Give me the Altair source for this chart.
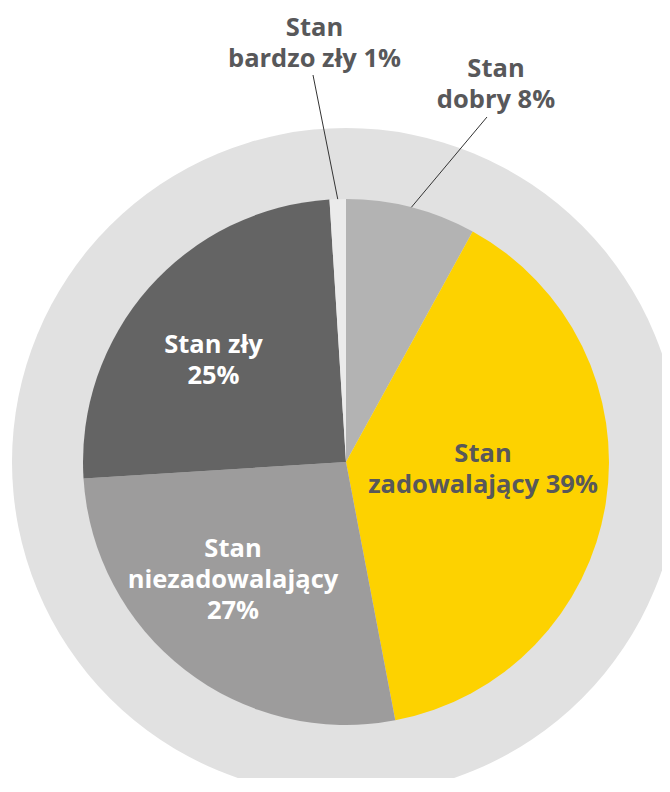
import math
import altair as alt
import pandas as pd

# ---- data ----
categories = ["Stan dobry", "Stan zadowalający", "Stan niezadowalający", "Stan zły", "Stan bardzo zły"]
values = [8, 39, 27, 25, 1]
label_texts = ["Stan\ndobry 8%", "Stan\nzadowalający 39%", "Stan\nniezadowalający\n27%", "Stan zły\n25%", "Stan\nbardzo zły 1%"]

# ---- style ----
slice_colors = ["#b3b3b3", "#fdd200", "#9d9c9c", "#646464", "#ebebeb"]
label_colors = ["#58585a", "#58585a", "#ffffff", "#ffffff", "#58585a"]
RING_COLOR = "#e1e1e1"

# ---- layout (svg pixels; page = svg + 8) ----
CX, CY = 338, 454
R_PIE = 263
R_RING = 334
# (horizontal centre, first-line baseline)
label_anchors = [(488, 69), (475, 454), (225, 549), (205.5, 344.5), (306.5, 28)]
leader_ends = [(479, 109), None, None, None, (305, 67)]

df = pd.DataFrame({"cat": categories, "value": values, "order": list(range(len(values)))})
ring_df = pd.DataFrame({"value": [sum(values)]})

ring = alt.Chart(ring_df).mark_arc(radius=R_RING, color=RING_COLOR).encode(
    theta=alt.Theta("value:Q"),
    x=alt.value(CX),
    y=alt.value(CY),
)

pie = alt.Chart(df).mark_arc(radius=R_PIE).encode(
    theta=alt.Theta("value:Q", stack=True),
    order=alt.Order("order:Q"),
    color=alt.Color("cat:N", scale=alt.Scale(domain=categories, range=slice_colors), legend=None),
    x=alt.value(CX),
    y=alt.value(CY),
)

# leader lines start at the middle of each slice's outer edge
total = sum(values)
rows = []
cum = 0
for v, end in zip(values, leader_ends):
    mid = (cum + v / 2) / total * 2 * math.pi
    cum += v
    if end is None:
        continue
    rows.append({
        "x1": CX + R_PIE * math.sin(mid),
        "y1": CY - R_PIE * math.cos(mid),
        "x2": end[0],
        "y2": end[1],
    })
rule_df = pd.DataFrame(rows)

rules = alt.Chart(rule_df).mark_rule(color="#333333", strokeWidth=1).encode(
    x=alt.X("x1:Q", scale=None),
    y=alt.Y("y1:Q", scale=None),
    x2="x2:Q",
    y2="y2:Q",
)

lab_df = pd.DataFrame({
    "text": label_texts,
    "px": [p[0] for p in label_anchors],
    "py": [p[1] for p in label_anchors],
    "tc": label_colors,
})

labels = alt.Chart(lab_df).mark_text(
    font="Open Sans", fontWeight="bold", fontSize=25.5, lineBreak="\n",
    lineHeight=31, align="center", baseline="alphabetic",
).encode(
    x=alt.X("px:Q", scale=None),
    y=alt.Y("py:Q", scale=None),
    text="text:N",
    color=alt.Color("tc:N", scale=None),
)

chart = alt.layer(ring, pie, rules, labels).properties(
    width=654, height=770, padding=0,
    autosize=alt.AutoSizeParams(type="none"),
).configure_view(stroke=None)

chart.save("out.html", embed_options={"renderer": "svg", "actions": False})
